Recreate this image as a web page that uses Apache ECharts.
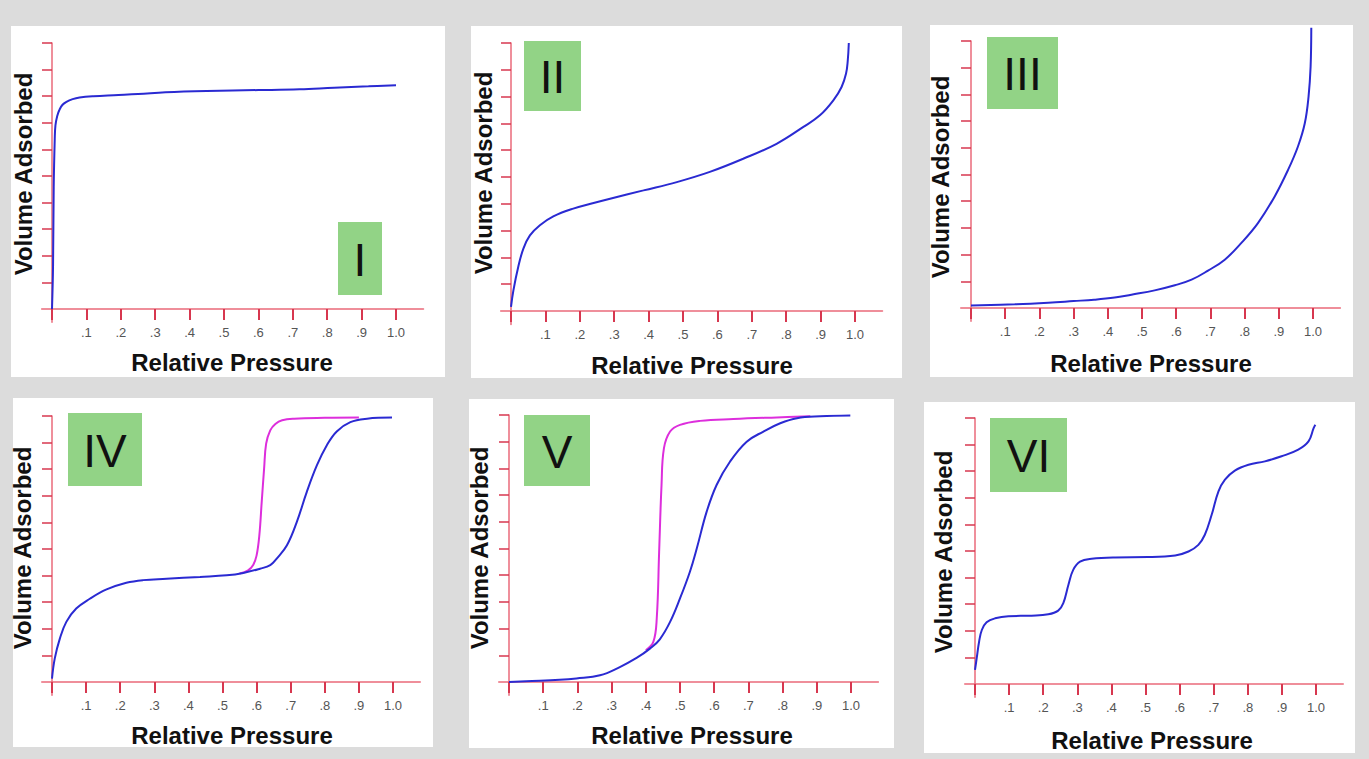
<!DOCTYPE html>
<html><head><meta charset="utf-8">
<script src="https://cdn.jsdelivr.net/npm/echarts@6/dist/echarts.min.js"></script>
<style>html,body{margin:0;padding:0;background:#dcdcdc;}#c{width:1369px;height:759px;}</style>
</head><body><div id="c"></div>
<script>
// ---- data ----
const panelNames = ['I', 'II', 'III', 'IV', 'V', 'VI'];
const xTickValues = [0, 0.1, 0.2, 0.3, 0.4, 0.5, 0.6, 0.7, 0.8, 0.9, 1.0];
const xTickLabels = ['', '.1', '.2', '.3', '.4', '.5', '.6', '.7', '.8', '.9', '1.0'];
const yTickValues = [1, 2, 3, 4, 5, 6, 7, 8, 9, 10];
const xAxisTitle = 'Relative Pressure';
const yAxisTitle = 'Volume Adsorbed';

const typeIX = [0, 0.003, 0.005, 0.008, 0.01, 0.015, 0.022, 0.03, 0.042, 0.06, 0.08, 0.12, 0.18, 0.25, 0.33, 0.45, 0.6, 0.72, 0.82, 0.92, 1.0];
const typeIY = [0, 1.6, 4.6, 6.4, 6.9, 7.25, 7.5, 7.67, 7.79, 7.89, 7.95, 8.0, 8.04, 8.08, 8.15, 8.2, 8.23, 8.26, 8.32, 8.37, 8.41];

const typeIIX = [0, 0.007, 0.021, 0.036, 0.055, 0.084, 0.123, 0.181, 0.24, 0.288, 0.385, 0.482, 0.578, 0.675, 0.772, 0.85, 0.898, 0.937, 0.961, 0.974, 0.979, 0.982];
const typeIIY = [0.15, 0.77, 1.64, 2.33, 2.82, 3.2, 3.53, 3.82, 4.03, 4.19, 4.5, 4.81, 5.19, 5.68, 6.24, 6.87, 7.3, 7.86, 8.36, 8.86, 9.35, 10.0];

const typeIIIX = [0, 0.128, 0.226, 0.3, 0.36, 0.42, 0.469, 0.537, 0.596, 0.645, 0.693, 0.742, 0.79, 0.839, 0.888, 0.927, 0.956, 0.976, 0.987, 0.993, 0.995];
const typeIIIY = [0.09, 0.14, 0.2, 0.26, 0.31, 0.39, 0.5, 0.66, 0.85, 1.06, 1.4, 1.81, 2.43, 3.18, 4.18, 5.17, 6.05, 6.92, 7.92, 9.04, 10.5];

const typeIVAdsX = [0, 0.008, 0.023, 0.042, 0.071, 0.111, 0.16, 0.218, 0.267, 0.336, 0.434, 0.512, 0.561, 0.61, 0.64, 0.659, 0.689, 0.718, 0.747, 0.777, 0.806, 0.835, 0.875, 0.924, 0.997];
const typeIVAdsY = [0.13, 0.88, 1.63, 2.26, 2.76, 3.13, 3.48, 3.73, 3.83, 3.88, 3.95, 4.01, 4.1, 4.26, 4.39, 4.64, 5.14, 6.02, 7.14, 8.15, 8.9, 9.42, 9.77, 9.9, 9.94];
const typeIVDesX = [0.55, 0.575, 0.59, 0.6, 0.608, 0.615, 0.622, 0.628, 0.64, 0.655, 0.675, 0.71, 0.8, 0.9];
const typeIVDesY = [4.08, 4.2, 4.4, 4.76, 5.51, 6.77, 8.02, 8.96, 9.46, 9.7, 9.84, 9.9, 9.93, 9.94];

const typeVAdsX = [0, 0.05, 0.148, 0.197, 0.266, 0.324, 0.373, 0.412, 0.441, 0.471, 0.5, 0.529, 0.549, 0.578, 0.607, 0.646, 0.695, 0.744, 0.793, 0.842, 0.91, 0.998];
const typeVAdsY = [0, 0.03, 0.08, 0.13, 0.25, 0.56, 0.9, 1.25, 1.6, 2.25, 3.13, 4.13, 5.0, 6.38, 7.38, 8.25, 9.0, 9.38, 9.69, 9.88, 9.95, 9.98];
const typeVDesX = [0.4, 0.422, 0.432, 0.439, 0.446, 0.453, 0.471, 0.5, 0.559, 0.656, 0.783, 0.881];
const typeVDesY = [1.19, 1.5, 2.38, 4.88, 7.38, 8.75, 9.38, 9.63, 9.78, 9.85, 9.91, 9.95];

const typeVIX = [0, 0.005, 0.012, 0.02, 0.034, 0.059, 0.098, 0.166, 0.215, 0.244, 0.259, 0.274, 0.288, 0.308, 0.342, 0.411, 0.508, 0.587, 0.626, 0.655, 0.674, 0.694, 0.714, 0.733, 0.762, 0.802, 0.85, 0.899, 0.948, 0.978, 0.993, 0.998];
const typeVIY = [0.53, 0.97, 1.59, 2.03, 2.32, 2.47, 2.55, 2.57, 2.62, 2.76, 3.04, 3.73, 4.29, 4.6, 4.71, 4.76, 4.77, 4.83, 4.98, 5.23, 5.61, 6.36, 7.24, 7.68, 8.02, 8.24, 8.37, 8.56, 8.81, 9.12, 9.62, 9.75];

// ---- layout (pixels) ----
const layout = [
  {box: [11, 26, 434, 351], x0: 52, x1: 396, y0: 309, y10: 43, badge: [338, 222, 44, 73], yT: [23, 174], xT: [232, 362]},
  {box: [471, 26, 431, 352], x0: 511, x1: 855, y0: 311, y10: 43, badge: [524, 41, 57, 70], yT: [483, 173], xT: [692, 365]},
  {box: [930, 25, 423, 352], x0: 971, x1: 1313, y0: 308, y10: 41, badge: [987, 37, 71, 72], yT: [940, 177], xT: [1151, 363]},
  {box: [13, 398, 420, 349], x0: 52, x1: 393, y0: 682, y10: 416, badge: [68, 413, 74, 73], yT: [22, 548], xT: [232, 735]},
  {box: [469, 399, 425, 349], x0: 509, x1: 851, y0: 682, y10: 415, badge: [524, 415, 66, 71], yT: [479, 548], xT: [692, 735]},
  {box: [924, 402, 431, 351], x0: 975, x1: 1316, y0: 684, y10: 418, badge: [990, 418, 77, 74], yT: [943, 552], xT: [1152, 740]}
];
const XMIN = -0.03, XMAX = 1.08, YMIN = -0.5, YMAX = 10;

const zip = (xs, ys) => xs.map((x, i) => [x, ys[i]]);
const BLUE = '#2a2ad2', PINK = '#dd2edc', AXIS = '#ea6a7a', TICK = '#d7374f';

const panelSeries = [
  [{d: zip(typeIX, typeIY), c: BLUE}],
  [{d: zip(typeIIX, typeIIY), c: BLUE}],
  [{d: zip(typeIIIX, typeIIIY), c: BLUE}],
  [{d: zip(typeIVDesX, typeIVDesY), c: PINK}, {d: zip(typeIVAdsX, typeIVAdsY), c: BLUE}],
  [{d: zip(typeVDesX, typeVDesY), c: PINK}, {d: zip(typeVAdsX, typeVAdsY), c: BLUE}],
  [{d: zip(typeVIX, typeVIY), c: BLUE}]
];

const grid = [], xAxis = [], yAxis = [], series = [], graphic = [];
layout.forEach((L, i) => {
  const pxX = L.x1 - L.x0, pxY = (L.y0 - L.y10) / 10;
  grid.push({
    left: L.x0 + XMIN * pxX, top: L.y10 - (YMAX - 10) * pxY,
    width: (XMAX - XMIN) * pxX, height: (YMAX - YMIN) * pxY,
    containLabel: false
  });
  xAxis.push({
    type: 'value', gridIndex: i, min: XMIN, max: XMAX,
    axisLine: {onZero: true, lineStyle: {color: AXIS, width: 1.5}},
    axisTick: {show: true, customValues: xTickValues, length: 11, lineStyle: {color: TICK, width: 2}},
    axisLabel: {
      customValues: xTickValues.slice(1), margin: 4,
      formatter: v => xTickLabels[xTickValues.findIndex(t => Math.abs(t - v) < 1e-6)] || '',
      color: '#555', fontSize: 13, fontFamily: 'Liberation Sans, Arial, sans-serif'
    },
    splitLine: {show: false}
  });
  yAxis.push({
    type: 'value', gridIndex: i, min: YMIN, max: YMAX,
    axisLine: {show: true, onZero: true, lineStyle: {color: AXIS, width: 1.5}},
    axisTick: {show: true, customValues: yTickValues, length: 10, lineStyle: {color: TICK, width: 1.5}},
    axisLabel: {show: false},
    splitLine: {show: false}
  });
  panelSeries[i].forEach(s => {
    series.push({
      type: 'line', xAxisIndex: i, yAxisIndex: i, data: s.d,
      showSymbol: false, smooth: 0.4, clip: false,
      lineStyle: {color: s.c, width: 2}, z: 5, silent: true, animation: false
    });
  });
  graphic.push({
    type: 'rect', z: -10, silent: true,
    shape: {x: L.box[0], y: L.box[1], width: L.box[2], height: L.box[3]},
    style: {fill: '#ffffff'}
  });
  graphic.push({
    type: 'rect', z: 20, silent: true,
    shape: {x: L.badge[0], y: L.badge[1], width: L.badge[2], height: L.badge[3]},
    style: {fill: '#92d386'}
  });
  graphic.push({
    type: 'text', z: 21, silent: true,
    x: L.badge[0] + L.badge[2] / 2, y: L.badge[1] + L.badge[3] / 2 + 1,
    style: {text: panelNames[i], fill: '#111', font: '46px "Liberation Sans", Arial, sans-serif', textAlign: 'center', textVerticalAlign: 'middle'}
  });
  graphic.push({
    type: 'text', z: 21, silent: true,
    x: L.yT[0], y: L.yT[1], rotation: Math.PI / 2,
    style: {text: yAxisTitle, fill: '#111', font: 'bold 24px "Liberation Sans", Arial, sans-serif', textAlign: 'center', textVerticalAlign: 'middle'}
  });
  graphic.push({
    type: 'text', z: 21, silent: true,
    x: L.xT[0], y: L.xT[1],
    style: {text: xAxisTitle, fill: '#111', font: 'bold 24px "Liberation Sans", Arial, sans-serif', textAlign: 'center', textVerticalAlign: 'middle'}
  });
});

const chart = echarts.init(document.getElementById('c'), null, {renderer: 'svg', width: 1369, height: 759});
chart.setOption({
  backgroundColor: '#dcdcdc',
  animation: false,
  grid, xAxis, yAxis, series, graphic
});
</script></body></html>
